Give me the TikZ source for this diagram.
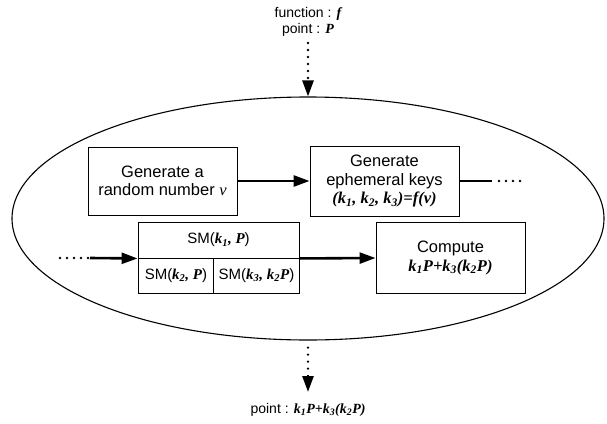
\documentclass[tikz,border=0pt]{standalone}
\usepackage{fontspec}
\setmainfont{Liberation Sans}
\newfontfamily\tms{Liberation Serif}
\usetikzlibrary{arrows.meta,shapes.geometric}
\newcommand\vi[1]{{\tms\itshape #1}}
\newcommand\vb[1]{{\tms\bfseries\itshape #1}}
\newcommand\sub[1]{\textsubscript{\tms\bfseries\itshape #1}}
\begin{document}
\begin{tikzpicture}[x=1pt,y=-1pt,
  box/.style={draw,line width=0.9pt,rectangle,inner sep=0pt,align=center,
    font=\fontsize{16.5}{18.5}\selectfont},
  smbox/.style={box,font=\fontsize{15}{18}\selectfont},
  arr/.style={line width=2.6pt,-{Triangle[length=16pt,width=11pt]}},
  thick line/.style={line width=2.6pt},
  dotline/.style={line width=2.6pt,line cap=round,dash pattern=on 0pt off 7pt},
  lbl/.style={align=center,inner sep=0pt,font=\fontsize{14}{15.5}\selectfont}]
\useasboundingbox (0,0) rectangle (607,423);
% ellipse
\node[draw,ellipse,line width=1.1pt,minimum width=592pt,minimum height=243pt,inner sep=0pt] (E) at (308,218.5) {};
% boxes
\node[box,minimum width=149pt,minimum height=68pt] (b1) at (162.5,181)
  {Generate a\\random number \vi{v}};
\node[box,minimum width=149pt,minimum height=70pt] (b2) at (384.5,181)
  {Generate\\ephemeral keys\\\vb{(k}\sub{1}\vb{, k}\sub{2}\vb{, k}\sub{3}\vb{)=f(v)}};
\node[smbox,minimum width=161pt,minimum height=36pt] (s1) at (218.5,240)
  {SM(\vb{k}\sub{1}\vb{, P})};
\node[smbox,minimum width=75pt,minimum height=35pt,anchor=north west] (s2) at (138,258)
  {SM(\vb{k}\sub{2}\vb{, P})};
\node[smbox,minimum width=86pt,minimum height=35pt,anchor=north west] (s3) at (213,258)
  {SM(\vb{k}\sub{3}\vb{, k}\sub{2}\vb{P})};
\node[box,minimum width=149pt,minimum height=71pt] (b3) at (450.5,258)
  {Compute\\\vb{k}\sub{1}\vb{P+k}\sub{3}\vb{(k}\sub{2}\vb{P)}};
% connectors
\draw[arr] (b1.east) -- (b2.west);
\coordinate (c1) at (492,181);
\coordinate (c2) at (525,181);
\draw[thick line] (b2.east) -- (c1);
\draw[dotline] (c1) ++(7,0) -- (c2);
\coordinate (c3) at (60,258);
\coordinate (c4) at (90,258);
\draw[dotline] (c3) -- (c4);
\draw[arr] (c4) -- (s1.south west);
\draw[arr] (s1.south east) -- (b3.west);
% top and bottom
\node[lbl] (in) at (308,22) {function : \vb{f}\\point : \vb{P}};
\coordinate (t) at (308,43);
\draw[dotline] (t) -- (308,78);
\draw[line width=2.6pt,-{Triangle[length=16pt,width=11pt]}] (308,82) -- (E.north);
\coordinate (bt) at (308,392);
\draw[dotline] (E.south) ++(0,7) -- (308,369);
\draw[line width=2.6pt,-{Triangle[length=16pt,width=11pt]}] (308,375) -- (bt);
\node[lbl] (out) at (308,410) {point : \vb{k}\sub{1}\vb{P+k}\sub{3}\vb{(k}\sub{2}\vb{P)}};
\end{tikzpicture}
\end{document}
